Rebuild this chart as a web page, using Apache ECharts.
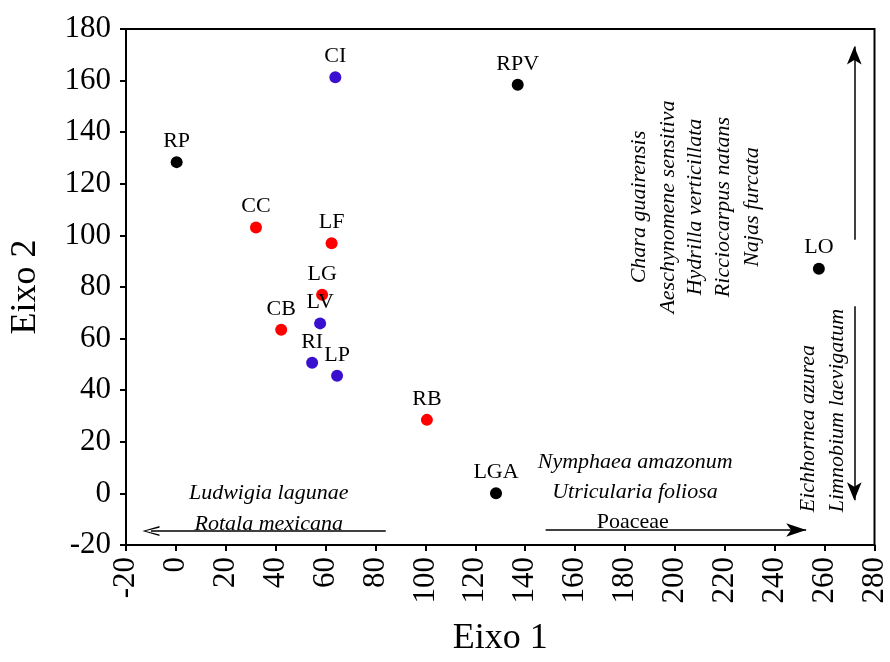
<!DOCTYPE html>
<html>
<head>
<meta charset="utf-8">
<script src="https://cdn.jsdelivr.net/npm/echarts@6/dist/echarts.min.js"></script>
<style>
  html, body { margin: 0; padding: 0; background: #ffffff; }
  #chart { width: 890px; height: 662px; }
</style>
</head>
<body>
<div id="chart"></div>
<script>
// Site scores on the first two ordination axes
const blackSites = ['RP', 'RPV', 'LGA', 'LO'];
const blackEixo1 = [0.3, 137.0, 128.3, 257.7];
const blackEixo2 = [128.4, 158.4, 0.1, 87.1];

const redSites = ['CC', 'LF', 'LG', 'CB', 'RB'];
const redEixo1 = [32.1, 62.4, 58.6, 42.2, 100.6];
const redEixo2 = [103.1, 97.0, 77.0, 63.4, 28.5];

const blueSites = ['CI', 'LV', 'RI', 'LP'];
const blueEixo1 = [63.9, 57.8, 54.6, 64.6];
const blueEixo2 = [161.3, 65.9, 50.6, 45.6];

// Axis ticks
const eixo1Ticks = [-20, 0, 20, 40, 60, 80, 100, 120, 140, 160, 180, 200, 220, 240, 260, 280];
const eixo2Ticks = [-20, 0, 20, 40, 60, 80, 100, 120, 140, 160, 180];

// Species associated with each direction of the axes
const leftSpecies = ['Ludwigia lagunae', 'Rotala mexicana'];
const rightSpecies = ['Nymphaea amazonum', 'Utricularia foliosa'];
const rightFamily = 'Poaceae';
const upSpecies = ['Chara guairensis', 'Aeschynomene sensitiva', 'Hydrilla verticillata', 'Ricciocarpus natans', 'Najas furcata'];
const downSpecies = ['Eichhornea azurea', 'Limnobium laevigatum'];

const serif = '"Liberation Serif", "Times New Roman", Times, serif';

function sites(xs, ys, names) {
  return names.map((n, i) => ({ name: n, value: [xs[i], ys[i]] }));
}

function siteSeries(name, color, data) {
  return {
    name: name,
    type: 'scatter',
    data: data,
    symbol: 'circle',
    symbolSize: 12,
    itemStyle: { color: color, opacity: 1 },
    label: {
      show: true,
      position: 'top',
      distance: 4,
      formatter: p => p.name,
      color: '#000',
      fontFamily: serif,
      fontSize: 22
    },
    emphasis: { disabled: true },
    animation: false,
    z: 3
  };
}

// Text anchors (in axis units) for the species lists
function note(text, x, y, extra) {
  return {
    value: [x, y],
    label: Object.assign({
      show: true,
      formatter: text,
      position: 'inside',
      color: '#000000',
      opacity: 1,
      textBorderWidth: 0,
      textShadowBlur: 0,
      fontFamily: serif,
      fontSize: 22,
      fontStyle: 'italic'
    }, extra || {})
  };
}

const vertical = { rotate: 90 };
const verticalStart = { rotate: 90, align: 'left', verticalAlign: 'middle' };

const notes = [
  note(leftSpecies[0], 37.2, 0),
  note(leftSpecies[1], 37.2, -12.0),
  note(rightSpecies[0], 184.1, 12.2),
  note(rightSpecies[1], 184.0, 0.5),
  note(rightFamily, 183.1, -11.2, { fontStyle: 'normal' }),
  note(upSpecies[0], 185.8, 111, vertical),
  note(upSpecies[1], 197.4, 111, vertical),
  note(upSpecies[2], 208.2, 111, vertical),
  note(upSpecies[3], 219.4, 111, vertical),
  note(upSpecies[4], 230.9, 111, vertical),
  note(downSpecies[0], 253.3, -7.3, verticalStart),
  note(downSpecies[1], 265.2, -7.3, verticalStart)
];

const openHead = 'path://M5,0 L10,16 L8.4,16 L5,3 L1.6,16 L0,16 Z';

const arrows = [
  [{ coord: [84.1, -14.6], symbol: 'none' }, { coord: [-10, -14.6], symbol: openHead, symbolSize: [10, 17] }],
  [{ coord: [148.2, -14.2], symbol: 'none' }, { coord: [252.6, -14.2], symbol: 'arrow', symbolSize: [10, 20] }],
  [{ coord: [271.9, 98.3], symbol: 'none' }, { coord: [271.9, 173.2], symbol: 'arrow', symbolSize: [11, 18] }],
  [{ coord: [271.9, 72.5], symbol: 'none' }, { coord: [271.9, -2.7], symbol: 'arrow', symbolSize: [11, 18] }]
];

const chart = echarts.init(document.getElementById('chart'), null, { renderer: 'canvas' });

chart.setOption({
  backgroundColor: '#ffffff',
  animation: false,
  grid: {
    left: 125, right: 13, top: 29, bottom: 112,
    show: true,
    borderColor: '#000',
    borderWidth: 2,
    backgroundColor: 'transparent'
  },
  xAxis: {
    type: 'value',
    min: eixo1Ticks[0],
    max: eixo1Ticks[eixo1Ticks.length - 1],
    interval: eixo1Ticks[1] - eixo1Ticks[0],
    name: 'Eixo 1',
    nameLocation: 'middle',
    nameGap: 76,
    nameTextStyle: { fontFamily: serif, fontSize: 36, color: '#000' },
    axisLine: { show: true, onZero: false, lineStyle: { color: '#000', width: 2 } },
    axisTick: { show: true, inside: false, length: 6, lineStyle: { color: '#000', width: 2 } },
    axisLabel: { rotate: 90, margin: 12, fontFamily: serif, fontSize: 31, color: '#000' },
    splitLine: { show: false }
  },
  yAxis: {
    type: 'value',
    min: eixo2Ticks[0],
    max: eixo2Ticks[eixo2Ticks.length - 1],
    interval: eixo2Ticks[1] - eixo2Ticks[0],
    name: 'Eixo 2',
    nameLocation: 'middle',
    nameGap: 82,
    nameRotate: 90,
    nameTextStyle: { fontFamily: serif, fontSize: 36, color: '#000' },
    axisLine: { show: true, onZero: false, lineStyle: { color: '#000', width: 2 } },
    axisTick: { show: true, inside: false, length: 6, lineStyle: { color: '#000', width: 2 } },
    axisLabel: { margin: 15, fontFamily: serif, fontSize: 31, color: '#000' },
    splitLine: { show: false }
  },
  series: [
    siteSeries('black', '#000000', sites(blackEixo1, blackEixo2, blackSites)),
    siteSeries('red', '#ff0000', sites(redEixo1, redEixo2, redSites)),
    siteSeries('blue', '#3a10d0', sites(blueEixo1, blueEixo2, blueSites)),
    {
      name: 'species',
      type: 'scatter',
      data: notes,
      symbolSize: 1,
      itemStyle: { color: '#ffffff', opacity: 1 },
      emphasis: { disabled: true },
      silent: true,
      z: 2,
      markLine: {
        silent: true,
        animation: false,
        label: { show: false },
        emphasis: { disabled: true },
        lineStyle: { color: '#000', width: 1.5, type: 'solid', opacity: 1 },
        data: arrows
      }
    }
  ]
});
</script>
</body>
</html>
